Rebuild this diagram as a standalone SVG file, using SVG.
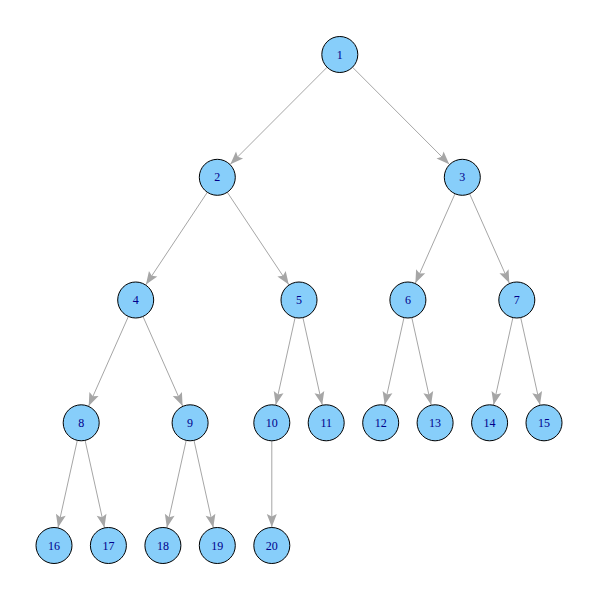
<svg xmlns="http://www.w3.org/2000/svg" width="600" height="600" viewBox="0 0 600 600">
<style>
.e{stroke:#A6A6A6;stroke-width:1;fill:none;marker-end:url(#ah)}
.n circle{fill:#87CEFA;stroke:#000;stroke-width:1}
.n text{font-family:"Liberation Serif","Times New Roman",serif;font-size:12px;fill:#00008B;text-anchor:middle;dominant-baseline:central}
</style>
<defs>
<marker id="ah" markerUnits="userSpaceOnUse" viewBox="0 -6 40 12" refX="40" refY="0" markerWidth="40" markerHeight="12" orient="auto">
<path d="M8.5,-5 L21.5,0 L8.5,5 L11,0 Z" fill="#A6A6A6"/>
</marker>
</defs>
<rect width="600" height="600" fill="#fff"/>
<g id="edges">
<line class="e" x1="339.8" y1="54.5" x2="217.3" y2="177.3"/>
<line class="e" x1="339.8" y1="54.5" x2="462.3" y2="177.3"/>
<line class="e" x1="217.3" y1="177.3" x2="135.7" y2="300"/>
<line class="e" x1="217.3" y1="177.3" x2="299" y2="300"/>
<line class="e" x1="462.3" y1="177.3" x2="407.9" y2="300"/>
<line class="e" x1="462.3" y1="177.3" x2="516.8" y2="300"/>
<line class="e" x1="135.7" y1="300" x2="81.2" y2="422.8"/>
<line class="e" x1="135.7" y1="300" x2="190.1" y2="422.8"/>
<line class="e" x1="299" y1="300" x2="271.8" y2="422.8"/>
<line class="e" x1="299" y1="300" x2="326.2" y2="422.8"/>
<line class="e" x1="407.9" y1="300" x2="380.7" y2="422.8"/>
<line class="e" x1="407.9" y1="300" x2="435.1" y2="422.8"/>
<line class="e" x1="516.8" y1="300" x2="489.6" y2="422.8"/>
<line class="e" x1="516.8" y1="300" x2="544" y2="422.8"/>
<line class="e" x1="81.2" y1="422.8" x2="54" y2="545.5"/>
<line class="e" x1="81.2" y1="422.8" x2="108.4" y2="545.5"/>
<line class="e" x1="190.1" y1="422.8" x2="162.9" y2="545.5"/>
<line class="e" x1="190.1" y1="422.8" x2="217.3" y2="545.5"/>
<line class="e" x1="271.8" y1="422.8" x2="271.8" y2="545.5"/>
</g>
<g id="n1" class="n"><circle cx="339.8" cy="54.5" r="18"/><text x="339.8" y="54.5">1</text></g>
<g id="n2" class="n"><circle cx="217.3" cy="177.3" r="18"/><text x="217.3" y="177.3">2</text></g>
<g id="n3" class="n"><circle cx="462.3" cy="177.3" r="18"/><text x="462.3" y="177.3">3</text></g>
<g id="n4" class="n"><circle cx="135.7" cy="300" r="18"/><text x="135.7" y="300">4</text></g>
<g id="n5" class="n"><circle cx="299" cy="300" r="18"/><text x="299" y="300">5</text></g>
<g id="n6" class="n"><circle cx="407.9" cy="300" r="18"/><text x="407.9" y="300">6</text></g>
<g id="n7" class="n"><circle cx="516.8" cy="300" r="18"/><text x="516.8" y="300">7</text></g>
<g id="n8" class="n"><circle cx="81.2" cy="422.8" r="18"/><text x="81.2" y="422.8">8</text></g>
<g id="n9" class="n"><circle cx="190.1" cy="422.8" r="18"/><text x="190.1" y="422.8">9</text></g>
<g id="n10" class="n"><circle cx="271.8" cy="422.8" r="18"/><text x="271.8" y="422.8">10</text></g>
<g id="n11" class="n"><circle cx="326.2" cy="422.8" r="18"/><text x="326.2" y="422.8">11</text></g>
<g id="n12" class="n"><circle cx="380.7" cy="422.8" r="18"/><text x="380.7" y="422.8">12</text></g>
<g id="n13" class="n"><circle cx="435.1" cy="422.8" r="18"/><text x="435.1" y="422.8">13</text></g>
<g id="n14" class="n"><circle cx="489.6" cy="422.8" r="18"/><text x="489.6" y="422.8">14</text></g>
<g id="n15" class="n"><circle cx="544" cy="422.8" r="18"/><text x="544" y="422.8">15</text></g>
<g id="n16" class="n"><circle cx="54" cy="545.5" r="18"/><text x="54" y="545.5">16</text></g>
<g id="n17" class="n"><circle cx="108.4" cy="545.5" r="18"/><text x="108.4" y="545.5">17</text></g>
<g id="n18" class="n"><circle cx="162.9" cy="545.5" r="18"/><text x="162.9" y="545.5">18</text></g>
<g id="n19" class="n"><circle cx="217.3" cy="545.5" r="18"/><text x="217.3" y="545.5">19</text></g>
<g id="n20" class="n"><circle cx="271.8" cy="545.5" r="18"/><text x="271.8" y="545.5">20</text></g>
</svg>
